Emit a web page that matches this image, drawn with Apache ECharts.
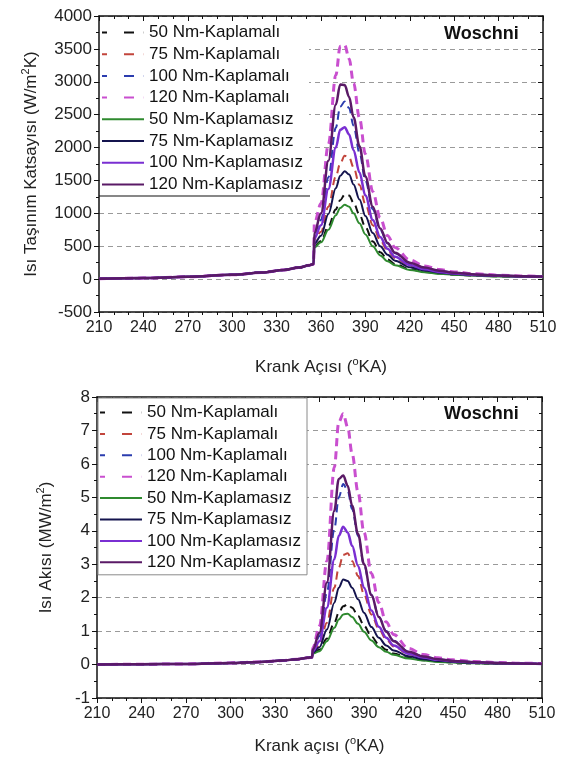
<!DOCTYPE html>
<html>
<head>
<meta charset="utf-8">
<script src="https://cdn.jsdelivr.net/npm/echarts@6/dist/echarts.min.js"></script>
<style>html,body{margin:0;padding:0;background:#fff}#c{width:564px;height:760px}</style>
</head>
<body>
<div id="c"></div>
<script>
// ---- data ----
const angles = [210, 240, 270, 300, 320, 335, 345, 352, 355, 355.5, 360, 365, 370, 373, 376, 379, 382, 386, 390, 395, 400, 405, 410, 420, 430, 440, 450, 465, 480, 495, 510];
const seriesNames = ['50 Nm-Kaplamalı', '75 Nm-Kaplamalı', '100 Nm-Kaplamalı', '120 Nm-Kaplamalı',
  '50 Nm-Kaplamasız', '75 Nm-Kaplamasız', '100 Nm-Kaplamasız', '120 Nm-Kaplamasız'];
const xTicks = [210, 240, 270, 300, 330, 360, 390, 420, 450, 480, 510];
const hTicks = [-500, 0, 500, 1000, 1500, 2000, 2500, 3000, 3500, 4000];
const qTicks = [-1, 0, 1, 2, 3, 4, 5, 6, 7, 8];

// Heat transfer coefficient (W/m2K)
const h50K  = [5,15,35,65,100,140,175,210,230, 500,580,800,1060,1200,1285,1270,1160,980,790,570,410,300,230,150,110,85,68,52,42,36,31];
const h75K  = [5,15,35,65,100,140,175,210,230, 600,720,1100,1560,1760,1875,1850,1700,1430,1140,820,590,430,320,200,140,105,82,61,48,40,34];
const h100K = [5,15,35,65,100,140,175,210,230, 700,900,1550,2300,2620,2700,2600,2330,1920,1500,1060,750,540,395,245,170,125,96,70,54,44,37];
const h120K = [5,15,35,65,100,140,175,210,230, 850,1150,2050,3100,3540,3560,3350,2980,2450,1900,1330,930,660,480,290,200,145,110,80,60,48,40];
const h50U  = [5,15,35,65,100,140,175,210,230, 480,560,750,970,1080,1130,1100,1000,850,680,500,360,270,210,140,105,80,65,50,40,35,30];
const h75U  = [5,15,35,65,100,140,175,210,230, 540,660,990,1380,1570,1640,1590,1440,1210,960,700,500,370,280,180,130,98,78,58,46,39,33];
const h100U = [5,15,35,65,100,140,175,210,230, 620,820,1370,2000,2270,2310,2200,1960,1620,1270,900,640,460,340,215,150,110,86,64,50,42,35];
const h120U = [5,15,35,65,100,140,175,210,230, 700,1000,1800,2650,2960,2950,2770,2460,2020,1560,1100,770,550,400,250,175,128,98,72,55,45,38];

// Heat flux (MW/m2)
const q50K  = [0,0.01,0.02,0.05,0.08,0.12,0.16,0.2,0.22, 0.34,0.44,0.78,1.25,1.55,1.74,1.80,1.70,1.45,1.16,0.84,0.60,0.44,0.33,0.20,0.13,0.09,0.065,0.045,0.032,0.022,0.016];
const q75K  = [0,0.01,0.02,0.05,0.08,0.12,0.16,0.2,0.22, 0.38,0.58,1.25,2.30,2.90,3.28,3.33,3.10,2.65,2.10,1.50,1.06,0.75,0.54,0.31,0.20,0.13,0.09,0.06,0.04,0.028,0.02];
const q100K = [0,0.01,0.02,0.05,0.08,0.12,0.16,0.2,0.22, 0.45,0.85,2.15,4.05,5.00,5.40,5.20,4.65,3.85,2.98,2.08,1.43,1.00,0.71,0.39,0.25,0.16,0.11,0.07,0.05,0.035,0.025];
const q120K = [0,0.01,0.02,0.05,0.08,0.12,0.16,0.2,0.22, 0.50,1.15,3.10,5.90,7.25,7.50,7.10,6.30,5.15,3.95,2.72,1.85,1.27,0.90,0.48,0.30,0.20,0.14,0.09,0.06,0.04,0.03];
const q50U  = [0,0.01,0.02,0.05,0.08,0.12,0.16,0.2,0.22, 0.33,0.40,0.70,1.10,1.35,1.50,1.52,1.42,1.22,0.98,0.72,0.52,0.38,0.29,0.18,0.12,0.08,0.06,0.04,0.03,0.02,0.015];
const q75U  = [0,0.01,0.02,0.05,0.08,0.12,0.16,0.2,0.22, 0.36,0.52,1.05,1.85,2.30,2.54,2.50,2.30,1.95,1.55,1.12,0.80,0.57,0.42,0.25,0.16,0.11,0.08,0.05,0.035,0.025,0.018];
const q100U = [0,0.01,0.02,0.05,0.08,0.12,0.16,0.2,0.22, 0.40,0.70,1.70,3.15,3.85,4.12,3.95,3.55,2.95,2.30,1.62,1.13,0.80,0.57,0.32,0.21,0.14,0.10,0.065,0.045,0.03,0.02];
const q120U = [0,0.01,0.02,0.05,0.08,0.12,0.16,0.2,0.22, 0.45,0.95,2.45,4.60,5.55,5.65,5.35,4.75,3.90,3.00,2.08,1.42,0.98,0.70,0.38,0.24,0.16,0.11,0.07,0.05,0.035,0.025];

const hData = [h50K, h75K, h100K, h120K, h50U, h75U, h100U, h120U];
const qData = [q50K, q75K, q100K, q120K, q50U, q75U, q100U, q120U];

// ---- styles ----
const FONT = '"Liberation Sans", Arial, sans-serif';
const colors = ['#111111', '#c2453c', '#2b3cae', '#c94fcf', '#2f8a2f', '#14144e', '#7a2fd2', '#5a1a66'];
const dashed = [true, true, true, true, false, false, false, false];
const widths = [2, 2, 2, 3, 2, 2, 2.5, 2.5];
const ICON_DASH = 'path://M0,0h5v2h-5z M22,0h10v2h-10z M41.8,0h0.2v2h-0.2z';
const ICON_SOLID = 'path://M0,0h42v2h-42z';

function pairs(vals) { return angles.map((a, i) => [a, vals[i]]); }

function makeSeries(dataSet, gi) {
  return dataSet.map((vals, i) => ({
    name: seriesNames[i], type: 'line', xAxisIndex: gi * 2, yAxisIndex: gi * 2,
    data: pairs(vals), showSymbol: false, symbol: 'none', smooth: 0.35, smoothMonotone: 'x',
    lineStyle: { color: colors[i], width: widths[i], type: dashed[i] ? [8, 5] : 'solid' },
    itemStyle: { color: colors[i] }, z: dashed[i] ? 2 : 3, animation: false
  }));
}

const tickLbl = { fontFamily: FONT, fontSize: 16, color: '#222' };

function xAxes(gi, title, gap) {
  return [{
    gridIndex: gi, type: 'value', min: 210, max: 510, interval: 30,
    axisLine: { onZero: false, lineStyle: { color: '#111', width: 1.5 } },
    axisTick: { length: 5, lineStyle: { color: '#111' } },
    minorTick: { show: true, splitNumber: 3, length: 3, lineStyle: { color: '#111' } },
    axisLabel: { ...tickLbl, margin: 8, formatter: v => xTicks.includes(v) ? String(v) : '' },
    splitLine: { show: false },
    name: title, nameLocation: 'middle', nameGap: gap,
    nameTextStyle: { fontFamily: FONT, fontSize: 17, color: '#222',
      rich: { a: { fontFamily: FONT, fontSize: 17, color: '#222' },
              s: { fontFamily: FONT, fontSize: 11, color: '#222', verticalAlign: 'top', lineHeight: 22 } } }
  }, {
    gridIndex: gi, type: 'value', min: 210, max: 510, interval: 30, position: 'top',
    axisLine: { onZero: false, lineStyle: { color: '#111', width: 1.5 } },
    axisTick: { inside: true, length: 5, lineStyle: { color: '#111' } },
    minorTick: { show: true, splitNumber: 3, length: 3, lineStyle: { color: '#111' } },
    axisLabel: { show: false }, splitLine: { show: false }
  }];
}

function yAxes(gi, min, max, interval, ticks, title, gap) {
  return [{
    gridIndex: gi, type: 'value', min: min, max: max, interval: interval,
    axisLine: { show: true, onZero: false, lineStyle: { color: '#111', width: 1.5 } },
    axisTick: { show: true, length: 5, lineStyle: { color: '#111' } },
    minorTick: { show: true, splitNumber: 2, length: 3, lineStyle: { color: '#111' } },
    axisLabel: { ...tickLbl, fontSize: 17, margin: 7, formatter: v => ticks.includes(v) ? String(v) : '' },
    splitLine: { show: true, lineStyle: { color: '#9a9a9a', type: [5, 4], width: 1 } },
    name: title, nameLocation: 'middle', nameGap: gap, nameRotate: 90,
    nameTextStyle: { fontFamily: FONT, fontSize: 17, color: '#222',
      rich: { a: { fontFamily: FONT, fontSize: 17, color: '#222' },
              s: { fontFamily: FONT, fontSize: 11, color: '#222', verticalAlign: 'top', lineHeight: 22 } } }
  }, {
    gridIndex: gi, type: 'value', min: min, max: max, interval: interval, position: 'right',
    axisLine: { show: true, onZero: false, lineStyle: { color: '#111', width: 1.5 } },
    axisTick: { show: true, inside: true, length: 5, lineStyle: { color: '#111' } },
    minorTick: { show: true, splitNumber: 2, length: 3, lineStyle: { color: '#111' } },
    axisLabel: { show: false }, splitLine: { show: false }
  }];
}

const legendText = { fontFamily: FONT, fontSize: 17, color: '#111' };
const legendData = seriesNames.map((n, i) => ({ name: n, icon: dashed[i] ? ICON_DASH : ICON_SOLID }));

const chart = echarts.init(document.getElementById('c'), null, { renderer: 'canvas' });
chart.setOption({
  animation: false,
  backgroundColor: '#fff',
  grid: [
    { left: 99, top: 16, width: 444, height: 296 },
    { left: 97, top: 397, width: 445, height: 301 }
  ],
  xAxis: [...xAxes(0, '{a|Krank Açısı (}{s|o}{a|KA)}', 44), ...xAxes(1, '{a|Krank açısı (}{s|o}{a|KA)}', 37)],
  yAxis: [...yAxes(0, -500, 4000, 500, hTicks, '{a|Isı Taşınım Katsayısı (W/m}{s|2}{a|K)}', 57),
          ...yAxes(1, -1, 8, 1, qTicks, '{a|Isı Akısı (MW/m}{s|2}{a|)}', 40)],
  legend: [
    { data: legendData, orient: 'vertical', left: 100, top: 22, itemWidth: 42, itemHeight: 2.5, itemGap: 4.7,
      padding: [2, 6, 4, 2], backgroundColor: '#fff', textStyle: legendText, selectedMode: false },
    { data: legendData, orient: 'vertical', left: 98, top: 398, itemWidth: 42, itemHeight: 2.5, itemGap: 4.4,
      padding: [6, 6, 4, 2], backgroundColor: '#fff', borderColor: '#8a8a8a', borderWidth: 1,
      textStyle: legendText, selectedMode: false }
  ],
  graphic: [
    { type: 'line', shape: { x1: 99, y1: 196, x2: 310, y2: 196 }, style: { stroke: '#111', lineWidth: 1.2 }, z: 100 },
    { type: 'text', left: 444, top: 25, style: { text: 'Woschni', font: 'bold 18px ' + FONT, fill: '#111' }, z: 100 },
    { type: 'text', left: 444, top: 405, style: { text: 'Woschni', font: 'bold 18px ' + FONT, fill: '#111' }, z: 100 }
  ],
  series: [...makeSeries(hData, 0), ...makeSeries(qData, 1)]
});
</script>
</body>
</html>
